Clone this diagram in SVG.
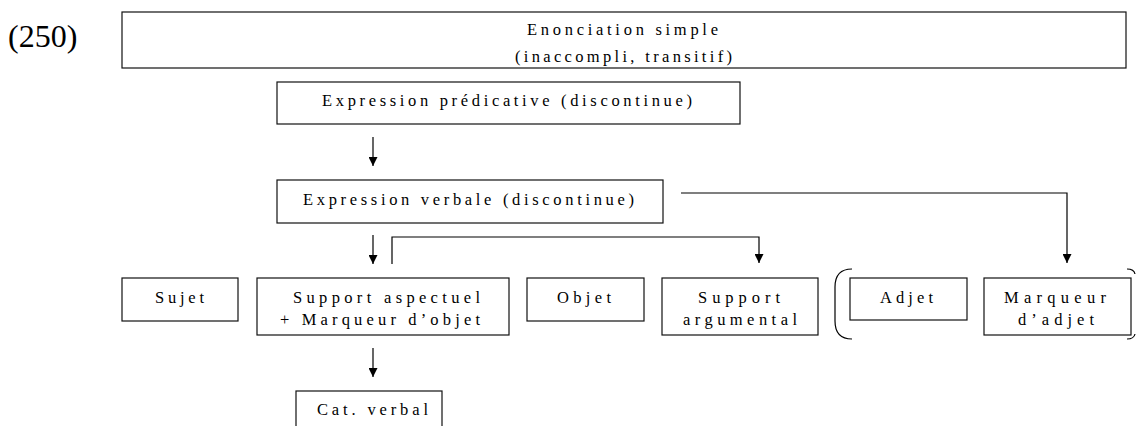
<svg xmlns="http://www.w3.org/2000/svg" width="1136" height="426" viewBox="0 0 1136 426">
  <style>
    .box { fill: #fff; stroke: #111; stroke-width: 1.2; }
    .t { font-family: "Liberation Serif", "Times New Roman", serif; font-size: 16.5px; fill: #000; }
    .conn { fill: none; stroke: #000; stroke-width: 1.2; }
    .brk { fill: none; stroke: #000; stroke-width: 1.2; }
  </style>
  <defs>
    <marker id="arr" viewBox="0 0 10 10" refX="10" refY="5" markerWidth="9" markerHeight="9" markerUnits="userSpaceOnUse" orient="auto">
      <path d="M0,0 L10,5 L0,10 Z" fill="#000"/>
    </marker>
  </defs>
  <rect width="1136" height="426" fill="#fff"/>

  <text x="8" y="47" font-family="Liberation Serif, Times New Roman, serif" font-size="32">(250)</text>

  <g id="enonciation">
    <rect class="box" x="122" y="12" width="1004" height="56"/>
    <text class="t" x="527" y="35" textLength="191" lengthAdjust="spacing">Enonciation simple</text>
    <text class="t" x="515" y="62" textLength="217" lengthAdjust="spacing">(inaccompli, transitif)</text>
  </g>
  <g id="expr-predicative">
    <rect class="box" x="277" y="82" width="463" height="42"/>
    <text class="t" x="322" y="106" textLength="370" lengthAdjust="spacing">Expression prédicative (discontinue)</text>
  </g>
  <g id="expr-verbale">
    <rect class="box" x="277" y="180" width="386" height="43"/>
    <text class="t" x="303" y="205" textLength="331" lengthAdjust="spacing">Expression verbale (discontinue)</text>
  </g>
  <g id="sujet">
    <rect class="box" x="122" y="278" width="116" height="43"/>
    <text class="t" x="155" y="303" textLength="49" lengthAdjust="spacing">Sujet</text>
  </g>
  <g id="support-aspectuel">
    <rect class="box" x="257" y="278" width="252" height="57"/>
    <text class="t" x="293" y="303" textLength="187" lengthAdjust="spacing">Support aspectuel</text>
    <text class="t" x="280" y="325" textLength="200" lengthAdjust="spacing">+ Marqueur d’objet</text>
  </g>
  <g id="objet">
    <rect class="box" x="527" y="278" width="117" height="43"/>
    <text class="t" x="557" y="303" textLength="54" lengthAdjust="spacing">Objet</text>
  </g>
  <g id="support-argumental">
    <rect class="box" x="662" y="278" width="156" height="57"/>
    <text class="t" x="698" y="303" textLength="82" lengthAdjust="spacing">Support</text>
    <text class="t" x="683" y="325" textLength="114" lengthAdjust="spacing">argumental</text>
  </g>
  <g id="adjet">
    <rect class="box" x="850" y="278" width="117" height="42"/>
    <text class="t" x="880" y="303" textLength="53" lengthAdjust="spacing">Adjet</text>
  </g>
  <g id="marqueur-adjet">
    <rect class="box" x="984" y="278" width="147" height="57"/>
    <text class="t" x="1004" y="303" textLength="102" lengthAdjust="spacing">Marqueur</text>
    <text class="t" x="1018" y="325" textLength="76" lengthAdjust="spacing">d’adjet</text>
  </g>
  <g id="cat-verbal">
    <rect class="box" x="296" y="391" width="146" height="50"/>
    <text class="t" x="317" y="415" textLength="111" lengthAdjust="spacing">Cat. verbal</text>
  </g>

  <g id="brackets">
    <path class="brk" d="M852,269 Q835,269 835,287 V321 Q835,339 852,339"/>
    <path class="brk" d="M1127,269 Q1134,269 1135,274 M1135,334 Q1134,339 1127,339"/>
  </g>

  <g id="connectors">
    <line class="conn" x1="373" y1="137" x2="373" y2="166" marker-end="url(#arr)"/>
    <line class="conn" x1="373" y1="235" x2="373" y2="264" marker-end="url(#arr)"/>
    <line class="conn" x1="373" y1="348" x2="373" y2="377" marker-end="url(#arr)"/>
    <path class="conn" d="M392,264 V237 H759 V263" marker-end="url(#arr)"/>
    <path class="conn" d="M681,193 H1067 V263" marker-end="url(#arr)"/>
  </g>
</svg>
